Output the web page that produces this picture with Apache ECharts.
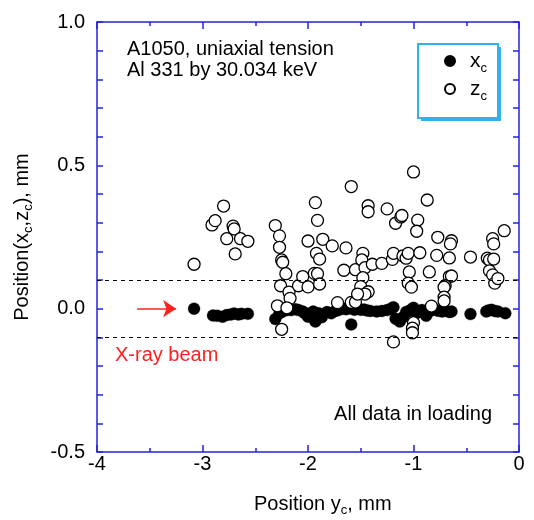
<!DOCTYPE html>
<html>
<head>
<meta charset="utf-8">
<script src="https://cdn.jsdelivr.net/npm/echarts@6/dist/echarts.min.js"></script>
<style>html,body{margin:0;padding:0;background:#fff;}#c{width:534px;height:520px;}</style>
</head>
<body>
<div id="c"></div>
<script>
// ---- data ----
const xcPosY = [-3.08,-2.90,-2.86,-2.81,-2.77,-2.73,-2.70,-2.66,-2.63,-2.57,
  -2.31,-2.27,-2.24,-2.20,-2.16,-2.12,-2.09,-2.05,-2.03,-2.00,
  -1.98,-1.95,-1.93,-1.90,-1.87,-1.82,-1.78,-1.74,-1.71,-1.67,
  -1.64,-1.60,-1.59,-1.56,-1.53,-1.50,-1.47,-1.44,-1.41,-1.35,
  -1.30,-1.25,-1.21,-1.19,-1.17,-1.13,-1.10,-1.07,-1.05,-1.02,
  -1.00,-0.97,-0.94,-0.92,-0.88,-0.85,-0.83,-0.77,-0.73,-0.70,
  -0.66,-0.64,-0.46,-0.31,-0.29,-0.26,-0.23,-0.20,-0.13];
const xcVals = [0.000,-0.024,-0.025,-0.028,-0.022,-0.020,-0.017,-0.020,-0.018,-0.018,
  -0.036,-0.016,-0.010,-0.005,-0.005,-0.002,-0.005,-0.010,-0.016,-0.028,
  -0.020,-0.010,-0.045,-0.016,-0.030,-0.012,-0.016,-0.008,-0.005,0.001,
  -0.002,0.001,-0.055,-0.004,0.000,-0.004,-0.003,-0.006,-0.008,-0.010,
  -0.008,-0.005,0.001,0.005,-0.035,-0.045,-0.030,-0.012,-0.010,-0.003,
  0.003,-0.015,-0.010,-0.005,-0.025,-0.010,-0.005,-0.007,-0.010,-0.007,
  -0.012,-0.010,-0.019,-0.010,-0.006,-0.004,-0.008,-0.010,-0.016];
const zcPosY = [-3.08,-2.91,-2.88,-2.80,-2.71,-2.70,-2.77,-2.69,-2.64,-2.57,
  -2.31,-2.27,-2.27,-2.25,-2.24,-2.21,-2.26,-2.18,-2.17,-2.29,
  -2.20,-2.25,-2.09,-2.05,-2.00,-2.00,-1.93,-1.91,-1.92,-1.89,
  -1.86,-1.94,-1.91,-1.89,-1.77,-1.64,-1.66,-1.59,-1.72,-1.59,
  -1.55,-1.55,-1.48,-1.49,-1.46,-1.48,-1.50,-1.43,-1.46,-1.53,
  -1.43,-1.43,-1.39,-1.30,-1.25,-1.20,-1.19,-1.17,-1.12,-1.11,
  -1.10,-1.07,-1.05,-1.04,-1.05,-1.02,-1.00,-0.96,-0.97,-0.94,
  -0.87,-0.85,-0.83,-1.00,-1.01,-1.01,-1.19,-0.77,-0.78,-0.66,
  -0.64,-0.65,-0.66,-0.64,-0.70,-0.71,-0.71,-0.71,-0.46,-0.30,
  -0.28,-0.24,-0.25,-0.24,-0.28,-0.25,-0.23,-0.20,-0.14];
const zcVals = [0.155,0.292,0.307,0.358,0.288,0.278,0.244,0.191,0.244,0.235,
  0.290,0.254,0.214,0.170,0.162,0.122,0.080,0.058,0.036,0.010,
  0.003,-0.072,0.080,0.112,0.076,0.236,0.370,0.308,0.193,0.173,
  0.242,0.123,0.122,0.086,0.219,0.212,0.134,0.426,0.021,0.022,
  0.023,0.136,0.193,0.170,0.143,0.108,0.077,0.059,0.051,0.051,
  0.359,0.338,0.155,0.158,0.348,0.172,0.193,0.298,0.320,0.325,
  0.184,0.176,0.193,0.128,0.089,0.075,0.477,0.309,0.270,0.195,
  0.379,0.128,0.009,-0.049,-0.068,-0.084,-0.116,0.249,0.186,0.177,
  0.237,0.226,0.112,0.114,0.080,0.075,0.040,0.027,0.180,0.176,
  0.170,0.173,0.244,0.226,0.132,0.118,0.089,0.105,0.272];
const bandLimits = [0.1, -0.1];
const xTicks = {min: -4, max: 0, interval: 1};
const yTicks = {min: -0.5, max: 1.0, interval: 0.1};

const xcData = xcPosY.map((v, i) => [v, xcVals[i]]);
const zcData = zcPosY.map((v, i) => [v, zcVals[i]]);

const FONT = 'Liberation Sans, Arial, Helvetica, sans-serif';
const BLUE = '#2323dd';
const CYAN = '#2fb3e8';

const chart = echarts.init(document.getElementById('c'), null, {renderer: 'canvas'});

const frameAxis = () => ({
  axisLine: {show: true, onZero: false, lineStyle: {color: BLUE, width: 1.5}},
  splitLine: {show: false},
});

const option = {
  backgroundColor: '#fff',
  animation: false,
  grid: {left: 97, right: 15, top: 22, bottom: 68, containLabel: false},
  xAxis: [
    Object.assign(frameAxis(), {
      type: 'value', min: xTicks.min, max: xTicks.max, interval: xTicks.interval, position: 'bottom',
      axisTick: {show: true, inside: true, length: 7, lineStyle: {color: BLUE, width: 1.5}},
      minorTick: {show: true, splitNumber: 2, length: 4, lineStyle: {color: BLUE, width: 1.5}},
      axisLabel: {color: '#000', fontFamily: FONT, fontSize: 20, margin: 2}
    }),
    Object.assign(frameAxis(), {
      type: 'value', min: xTicks.min, max: xTicks.max, interval: xTicks.interval, position: 'top',
      axisTick: {show: true, inside: true, length: 7, lineStyle: {color: BLUE, width: 1.5}},
      minorTick: {show: true, splitNumber: 2, length: 4, lineStyle: {color: BLUE, width: 1.5}},
      axisLabel: {show: false}
    })
  ],
  yAxis: [
    Object.assign(frameAxis(), {
      type: 'value', min: yTicks.min, max: yTicks.max, interval: yTicks.interval, position: 'left',
      axisTick: {show: true, inside: true, length: 6, lineStyle: {color: BLUE, width: 1.5}},
      axisLabel: {color: '#000', fontFamily: FONT, fontSize: 20, margin: 12,
        formatter: (v) => Math.abs(v * 2 - Math.round(v * 2)) < 1e-6 ? v.toFixed(1) : ''}
    }),
    Object.assign(frameAxis(), {
      type: 'value', min: yTicks.min, max: yTicks.max, interval: yTicks.interval, position: 'right',
      axisTick: {show: true, inside: true, length: 6, lineStyle: {color: BLUE, width: 1.5}},
      axisLabel: {show: false}
    })
  ],
  legend: {
    orient: 'vertical', left: 418, top: 44,
    padding: [3, 14, 15, 26], itemGap: 0,
    itemWidth: 10, itemHeight: 10, icon: 'circle',
    data: ['xc', 'zc'],
    formatter: (n) => n === 'xc' ? '{m|x}{s|c}' : '{m|z}{s|c}',
    textStyle: {
      padding: [0, 0, 0, 10], lineHeight: 28,
      rich: {
        m: {fontFamily: FONT, fontSize: 21, color: '#000', verticalAlign: 'middle', lineHeight: 28},
        s: {fontFamily: FONT, fontSize: 13, color: '#000', verticalAlign: 'bottom', lineHeight: 28}
      }
    }
  },
  series: [
    {
      name: 'xc', type: 'scatter', data: xcData, symbol: 'circle', symbolSize: 12,
      itemStyle: {color: '#000', borderColor: '#000', borderWidth: 0.3, opacity: 1}, z: 3,
      markLine: {
        silent: true, symbol: ['none', 'none'], label: {show: false},
        lineStyle: {color: '#000', type: [4, 4], width: 1},
        data: bandLimits.map(v => ({yAxis: v}))
      }
    },
    {
      name: 'zc', type: 'scatter', data: zcData, symbol: 'circle', symbolSize: 12,
      itemStyle: {color: '#fff', borderColor: '#000', borderWidth: 1.3, opacity: 1}, z: 4,
      markLine: {
        silent: true, symbol: ['none', 'arrow'], symbolSize: 13, label: {show: false},
        lineStyle: {color: '#ff2020', type: 'solid', width: 1.5, opacity: 1},
        data: [[{coord: [-3.62, 0]}, {coord: [-3.25, 0]}]]
      }
    }
  ],
  graphic: [
    {type: 'rect', shape: {x: 421, y: 47, width: 80, height: 74}, z: -1,
      style: {fill: CYAN}},
    {type: 'rect', shape: {x: 418, y: 44, width: 80, height: 74}, z: 0,
      style: {fill: '#fff', stroke: CYAN, lineWidth: 2}},
    {type: 'text', left: 127, top: 39, z: 10,
      style: {text: 'A1050, uniaxial tension\nAl 331 by 30.034 keV', fontFamily: FONT, fontSize: 20, lineHeight: 21, fill: '#000'}},
    {type: 'text', left: 115, top: 345, z: 10,
      style: {text: 'X-ray beam', fontFamily: FONT, fontSize: 20, fill: '#ff2020'}},
    {type: 'text', right: 42, top: 404, z: 10,
      style: {text: 'All data in loading', fontFamily: FONT, fontSize: 20, fill: '#000'}},
    {type: 'text', left: 254, top: 494, z: 10,
      style: {text: '{m|Position y}{s|c}{m|, mm}', fontFamily: FONT, fill: '#000',
        rich: {
          m: {fontFamily: FONT, fontSize: 20, verticalAlign: 'middle', lineHeight: 26},
          s: {fontFamily: FONT, fontSize: 13, verticalAlign: 'bottom', lineHeight: 26}
        }}},
    {type: 'text', x: 22, y: 237, rotation: Math.PI / 2, z: 10,
      style: {text: '{m|Position(x}{s|c}{m|,z}{s|c}{m|), mm}', fontFamily: FONT, fill: '#000',
        align: 'center', verticalAlign: 'middle',
        rich: {
          m: {fontFamily: FONT, fontSize: 20, verticalAlign: 'middle', lineHeight: 26},
          s: {fontFamily: FONT, fontSize: 13, verticalAlign: 'bottom', lineHeight: 26}
        }}}
  ]
};
chart.setOption(option);
</script>
</body>
</html>
